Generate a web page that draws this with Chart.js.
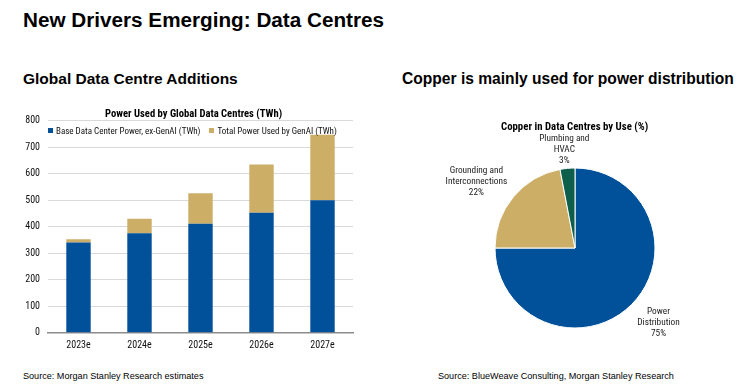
<!DOCTYPE html>
<html><head><meta charset="utf-8">
<script src="https://cdn.jsdelivr.net/npm/chart.js@4.4.1/dist/chart.umd.min.js"></script>
<style>
html,body{margin:0;padding:0;background:#fff;width:750px;height:384px;overflow:hidden;position:relative;font-family:"Liberation Sans",Arial,sans-serif;}
.abs{position:absolute;white-space:nowrap;}
#t1{left:23px;top:8px;font-size:20.7px;font-weight:bold;color:#000;}
#t2{left:23px;top:70px;font-size:15.5px;font-weight:bold;color:#000;}
#t3{left:402px;top:70px;font-size:15.6px;font-weight:bold;color:#000;}
#s1{left:23px;top:371px;font-size:9.1px;color:#000;}
#s2{left:438px;top:371px;font-size:9.1px;color:#000;}
.cond{font-family:"Liberation Sans Narrow","Roboto Condensed",Roboto,sans-serif;}
#bt{left:105px;top:107px;font-size:10.6px;font-weight:bold;color:#000;}
#pt{left:501px;top:120px;font-size:10.8px;font-weight:bold;color:#000;}
#leg{left:48px;top:126px;font-size:9px;color:#111;}
#leg span.sw{display:inline-block;width:5px;height:5px;margin-right:3px;vertical-align:1px;}
#leg span.it{margin-right:9px;}
#bc{position:absolute;left:0;top:100px;}
#pc{position:absolute;left:420px;top:100px;}
</style></head>
<body>
<div class="abs" id="t1">New Drivers Emerging: Data Centres</div>
<div class="abs" id="t2">Global Data Centre Additions</div>
<div class="abs" id="t3">Copper is mainly used for power distribution</div>
<div class="abs" id="s1">Source: Morgan Stanley Research estimates</div>
<div class="abs" id="s2">Source: BlueWeave Consulting, Morgan Stanley Research</div>
<div id="bc" style="width:370px;height:260px"><canvas id="barC"></canvas></div>
<div id="pc" style="width:330px;height:260px"><canvas id="pieC"></canvas></div>
<div class="abs cond" id="bt">Power Used by Global Data Centres (TWh)</div>
<div class="abs cond" id="pt">Copper in Data Centres by Use (%)</div>
<div class="abs cond" id="leg"></div>
<script>
const years = ["2023e","2024e","2025e","2026e","2027e"];
const basePower = [340, 375, 411, 453, 500];
const genAIPower = [13, 55, 115, 182, 247];
const seriesNames = ["Base Data Center Power, ex-GenAI (TWh)","Total Power Used by GenAI (TWh)"];
const yTicks = [0,100,200,300,400,500,600,700,800];

const pieLabels = [["Power","Distribution"],["Grounding and","Interconnections"],["Plumbing and","HVAC"]];
const pieValues = [75, 22, 3];

const BLUE = "#00519A", TAN = "#CDAE67", GREEN = "#0E5E4C";
const condFont = '"Liberation Sans Narrow","Roboto Condensed",Roboto,sans-serif';

const bar = new Chart(document.getElementById("barC"), {
  type: "bar",
  data: {
    labels: years,
    datasets: [
      {label: seriesNames[0], data: basePower, backgroundColor: BLUE, barPercentage: 0.4, categoryPercentage: 1},
      {label: seriesNames[1], data: genAIPower, backgroundColor: TAN, barPercentage: 0.4, categoryPercentage: 1}
    ]
  },
  options: {
    responsive: true, maintainAspectRatio: false, animation: false,
    layout: {padding: {top: 20.7, right: 17, left: 0, bottom: 0}},
    plugins: {legend: {display: false}, title: {display: false}, tooltip: {enabled: false}},
    scales: {
      x: {
        stacked: true,
        grid: {display: false, drawTicks: false},
        border: {display: true, color: "#8c8c8c", width: 1.5},
        ticks: {color: "#111", font: {family: condFont, size: 10}, padding: 7},
        afterFit: s => { s.height = 27.3; }
      },
      y: {
        stacked: true, min: 0, max: 800,
        afterBuildTicks: s => { s.ticks = yTicks.map(v => ({value: v})); },
        grid: {color: "#d9d9d9", lineWidth: 1, drawTicks: false},
        border: {display: false},
        ticks: {color: "#111", font: {family: condFont, size: 10}, padding: 8},
        afterFit: s => { s.width = 48; }
      }
    }
  }
});

const leg = document.getElementById("leg");
bar.data.datasets.forEach(ds => {
  const it = document.createElement("span"); it.className = "it";
  const sw = document.createElement("span"); sw.className = "sw"; sw.style.background = ds.backgroundColor;
  it.appendChild(sw); it.appendChild(document.createTextNode(ds.label));
  leg.appendChild(it);
});

const pieLabelPlugin = {
  id: "pieLabels",
  afterDatasetsDraw(chart) {
    const ctx = chart.ctx;
    const meta = chart.getDatasetMeta(0);
    ctx.save();
    ctx.font = "9.3px " + condFont;
    ctx.fillStyle = "#222";
    ctx.textAlign = "center";
    ctx.textBaseline = "middle";
    const lh = 11;
    meta.data.forEach((arc, i) => {
      const mid = (arc.startAngle + arc.endAngle) / 2;
      const dx = Math.cos(mid), dy = Math.sin(mid);
      const ax = arc.x + dx * (arc.outerRadius + 8);
      const ay = arc.y + dy * (arc.outerRadius + 2);
      const lines = pieLabels[i].concat([pieValues[i] + "%"]);
      const w = Math.max(...lines.map(l => ctx.measureText(l).width));
      const h = lines.length * lh;
      const m = Math.max(Math.abs(dx), Math.abs(dy));
      const cx = ax + (dx / m) * w / 2, cy = ay + (dy / m) * h / 2;
      lines.forEach((l, j) => ctx.fillText(l, cx, cy - h / 2 + lh / 2 + j * lh));
    });
    ctx.restore();
  }
};

new Chart(document.getElementById("pieC"), {
  type: "pie",
  data: {
    labels: pieLabels.map(l => l.join(" ")),
    datasets: [{data: pieValues, backgroundColor: [BLUE, TAN, GREEN], borderColor: "#fff", borderWidth: 1}]
  },
  options: {
    responsive: true, maintainAspectRatio: false, animation: false,
    layout: {padding: {left: 74.5, right: 94.5, top: 67.5, bottom: 31.5}},
    plugins: {legend: {display: false}, tooltip: {enabled: false}}
  },
  plugins: [pieLabelPlugin]
});
</script>
</body></html>
